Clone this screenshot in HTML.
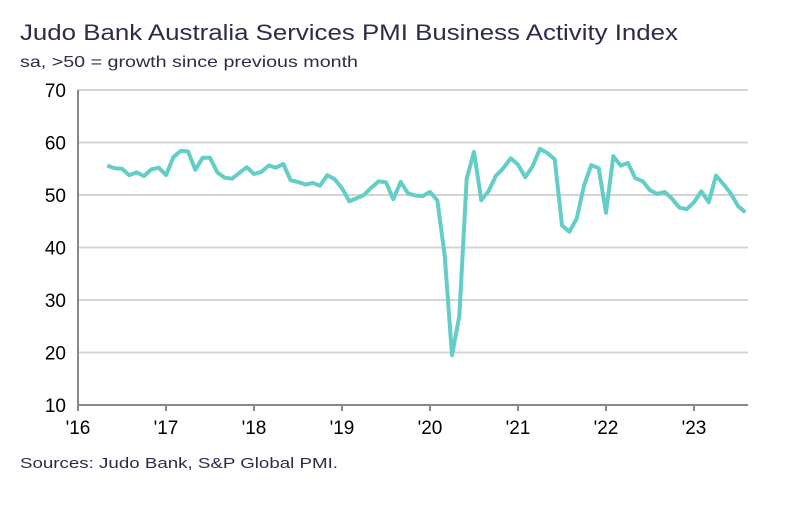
<!DOCTYPE html>
<html><head><meta charset="utf-8"><style>
body{margin:0;background:#fff;font-family:"Liberation Sans",sans-serif;}
</style></head><body>
<svg width="793" height="510" xmlns="http://www.w3.org/2000/svg">
<text x="20" y="40" font-size="22" fill="#2a2d4a" textLength="658" lengthAdjust="spacingAndGlyphs">Judo Bank Australia Services PMI Business Activity Index</text>
<text x="20" y="67" font-size="16" fill="#2a2d4a" textLength="338" lengthAdjust="spacingAndGlyphs">sa, &gt;50 = growth since previous month</text>
<g id="grid"></g>
<g id="yt"></g>
<g id="xt"></g>
<path id="line" fill="none" stroke="#63cdc8" stroke-width="4" stroke-linejoin="round"/>
<text x="20" y="468" font-size="15" fill="#2a2d4a" textLength="318" lengthAdjust="spacingAndGlyphs">Sources: Judo Bank, S&amp;P Global PMI.</text>
</svg>
<script>
const startYear = 2016, startMonth = 4; // May 2016 (0-based month)
const values = [55.6,55.1,55.0,53.8,54.3,53.6,54.9,55.2,
53.8,57.2,58.4,58.3,54.8,57.1,57.1,54.3,53.3,53.1,54.2,55.3,
54.0,54.4,55.6,55.2,55.9,52.8,52.5,52.0,52.3,51.8,53.8,53.0,
51.3,48.8,49.4,50.0,51.4,52.6,52.4,49.2,52.5,50.3,49.9,49.8,
50.6,49.0,38.5,19.5,26.9,53.1,58.2,49.0,50.8,53.7,55.1,57.0,
55.8,53.4,55.5,58.8,58.0,56.8,44.2,43.0,45.5,51.8,55.7,55.1,
46.6,57.4,55.6,56.1,53.2,52.6,50.9,50.2,50.6,49.3,47.6,47.3,
48.6,50.7,48.6,53.7,52.1,50.3,47.9,46.7];
const yTicks = [10,20,30,40,50,60,70];
const xTickLabels = ["'16","'17","'18","'19","'20","'21","'22","'23"];
const x0=78, x1=748, yTop=90, yBot=405, yMin=10, yMax=70, pxPerYear=88;
const NS="http://www.w3.org/2000/svg";
function y(v){return yBot-(v-yMin)/(yMax-yMin)*(yBot-yTop);}
function x(monthsFromJan16){return x0+monthsFromJan16*pxPerYear/12;}
const grid=document.getElementById('grid'), yt=document.getElementById('yt'), xt=document.getElementById('xt');
yTicks.forEach(t=>{
  if(t>yMin){const l=document.createElementNS(NS,'line');
  
  
  l.setAttribute('x1',x0);l.setAttribute('x2',x1);l.setAttribute('y1',y(t));l.setAttribute('y2',y(t));
  l.setAttribute('stroke','#d4d4d4');l.setAttribute('stroke-width','2');grid.appendChild(l);}
  const tx=document.createElementNS(NS,'text');
  
  
  tx.setAttribute('x',x0-12);tx.setAttribute('y',y(t)+7);tx.setAttribute('text-anchor','end');
  tx.setAttribute('font-size','19');tx.setAttribute('fill','#000');tx.textContent=t;yt.appendChild(tx);
});
const ax=document.createElementNS(NS,'line');


ax.setAttribute('x1',x0);ax.setAttribute('x2',x1);ax.setAttribute('y1',yBot);ax.setAttribute('y2',yBot);
ax.setAttribute('stroke','#888');ax.setAttribute('stroke-width','2');xt.appendChild(ax);
const ay=document.createElementNS(NS,'line');


ay.setAttribute('x1',x0);ay.setAttribute('x2',x0);ay.setAttribute('y1',yTop);ay.setAttribute('y2',yBot);
ay.setAttribute('stroke','#888');ay.setAttribute('stroke-width','2');xt.appendChild(ay);
xTickLabels.forEach((lab,i)=>{
  const px=x(i*12);
  const tk=document.createElementNS(NS,'line');
  
  
  tk.setAttribute('x1',px);tk.setAttribute('x2',px);tk.setAttribute('y1',yBot);tk.setAttribute('y2',yBot+6);
  tk.setAttribute('stroke','#888');tk.setAttribute('stroke-width','2');xt.appendChild(tk);
  const tx=document.createElementNS(NS,'text');
  
  
  tx.setAttribute('x',px);tx.setAttribute('y',yBot+29);tx.setAttribute('text-anchor','middle');
  tx.setAttribute('font-size','19');tx.setAttribute('fill','#000');tx.textContent=lab;xt.appendChild(tx);
});
const off=(startYear-2016)*12+startMonth;
document.getElementById('line').setAttribute('d',values.map((v,i)=>(i?'L':'M')+x(off+i).toFixed(1)+','+y(v).toFixed(1)).join(''));
</script>
</body></html>
